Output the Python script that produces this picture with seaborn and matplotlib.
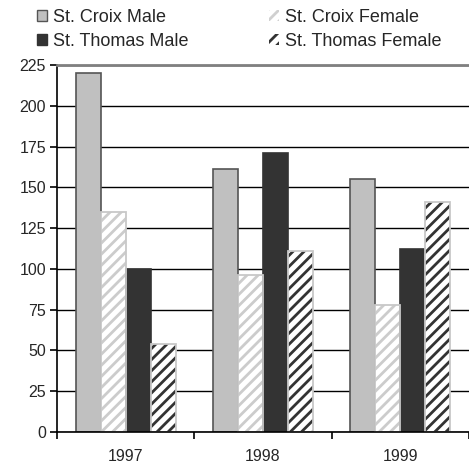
import matplotlib
matplotlib.use("Agg")
import matplotlib.pyplot as plt
from matplotlib.patches import Patch, Rectangle
import seaborn as sns
import pandas as pd

years = ["1997", "1998", "1999"]
series = ["St. Croix Male", "St. Croix Female", "St. Thomas Male", "St. Thomas Female"]
st_croix_male = [220, 161, 155]
st_croix_female = [135, 96, 78]
st_thomas_male = [100, 171, 112]
st_thomas_female = [54, 111, 141]
y_ticks = [0, 25, 50, 75, 100, 125, 150, 175, 200, 225]

rows = []
for name, vals in zip(series, [st_croix_male, st_croix_female, st_thomas_male, st_thomas_female]):
    for yr, v in zip(years, vals):
        rows.append({"Year": yr, "Series": name, "Value": v})
df = pd.DataFrame(rows)

sns.set_theme(style="white")
plt.rcParams["font.family"] = ["Liberation Sans", "DejaVu Sans"]
plt.rcParams["hatch.linewidth"] = 2.0

fills = ["#c0c0c0", "#ffffff", "#333333", "#ffffff"]
edges = ["#555555", "#c8c8c8", "#333333", "#c8c8c8"]
hatch_cols = [None, "#cccccc", None, "#333333"]
hatches = [None, "///", None, "///"]

fig = plt.figure(figsize=(4.69, 4.66), dpi=100)
ax = fig.add_axes([57 / 469, 1 - 432 / 466, 1 - 57 / 469, (432 - 65) / 466])

sns.barplot(data=df, x="Year", y="Value", hue="Series", hue_order=series,
            order=years, palette=fills, width=0.73, gap=0, ax=ax, legend=False,
            saturation=1, errorbar=None)

for i, cont in enumerate(ax.containers):
    for p in cont:
        p.set_facecolor(fills[i])
        if hatches[i]:
            p.set_hatch(hatches[i])
            p.set_edgecolor(hatch_cols[i])
            p.set_linewidth(0)
            outline = Rectangle(p.get_xy(), p.get_width(), p.get_height(), fill=False,
                                edgecolor=edges[i], linewidth=1.3, zorder=p.get_zorder() + 0.1)
            ax.add_patch(outline)
        else:
            p.set_edgecolor(edges[i])
            p.set_linewidth(1.2)

ax.set_ylim(0, 225)
ax.set_xlim(-0.5, 2.5)
ax.set_yticks(y_ticks)
ax.set_yticklabels([str(t) for t in y_ticks], fontsize=11.5)
ax.set_xticks(range(len(years)))
ax.set_xticklabels(years, fontsize=11.5)
ax.set_xticks([-0.5, 0.5, 1.5, 2.5], minor=True)
ax.tick_params(axis="x", which="major", length=0, pad=12)
ax.tick_params(axis="x", which="minor", length=5, width=1.2, color="black", direction="out", bottom=True)
ax.tick_params(axis="y", length=5, width=1.2, color="black", direction="out", left=True, pad=3)
ax.set_xlabel("")
ax.set_ylabel("")
ax.yaxis.grid(True, color="black", linewidth=1.0)
ax.xaxis.grid(False)
ax.set_axisbelow(True)
for s in ["left", "bottom"]:
    ax.spines[s].set_color("black")
    ax.spines[s].set_linewidth(1.2)
ax.spines["top"].set_color("#808080")
ax.spines["top"].set_linewidth(2)
ax.spines["right"].set_visible(False)

handles = [
    Patch(facecolor="#c0c0c0", edgecolor="#555555", linewidth=1),
    Patch(facecolor="#ffffff", edgecolor="#d0d0d0", hatch="///", linewidth=0),
    Patch(facecolor="#333333", edgecolor="#333333", linewidth=1),
    Patch(facecolor="#ffffff", edgecolor="#333333", hatch="///", linewidth=0),
]
order = [0, 2, 1, 3]
leg = fig.legend([handles[k] for k in order], [series[k] for k in order], ncol=2,
                 loc="upper left", bbox_to_anchor=(37 / 469, 1 - 9 / 466), frameon=False,
                 fontsize=13, handlelength=0.55, handleheight=0.55, handletextpad=0.35,
                 columnspacing=4.45, labelspacing=0.4, borderaxespad=0, borderpad=0)

fig.savefig("out.png", dpi=100)
